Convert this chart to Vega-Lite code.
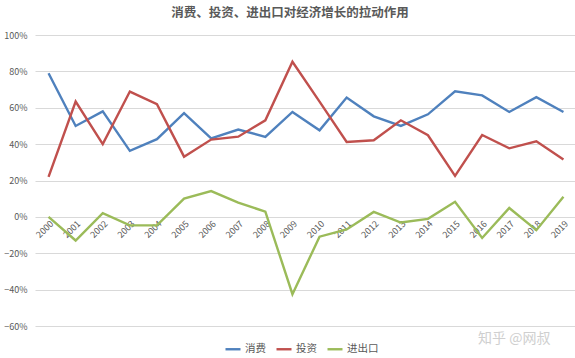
{
  "$schema": "https://vega.github.io/schema/vega-lite/v6.json",
  "autosize": {"type": "none"},
  "width": 542,
  "height": 291,
  "padding": {"left": 35, "top": 35, "right": 0, "bottom": 32},
  "background": "white",
  "title": {
    "text": "消费、投资、进出口对经济增长的拉动作用",
    "font": "Noto Sans CJK SC",
    "fontSize": 12.5,
    "fontWeight": "bold",
    "color": "#595959",
    "offset": 12,
    "dx": -16
  },
  "datasets": {
    "main": [
      {"year": "2000", "series": "消费", "value": 0.79},
      {"year": "2001", "series": "消费", "value": 0.50},
      {"year": "2002", "series": "消费", "value": 0.58},
      {"year": "2003", "series": "消费", "value": 0.363},
      {"year": "2004", "series": "消费", "value": 0.427},
      {"year": "2005", "series": "消费", "value": 0.57},
      {"year": "2006", "series": "消费", "value": 0.432},
      {"year": "2007", "series": "消费", "value": 0.48},
      {"year": "2008", "series": "消费", "value": 0.44},
      {"year": "2009", "series": "消费", "value": 0.577},
      {"year": "2010", "series": "消费", "value": 0.476},
      {"year": "2011", "series": "消费", "value": 0.656},
      {"year": "2012", "series": "消费", "value": 0.553},
      {"year": "2013", "series": "消费", "value": 0.50},
      {"year": "2014", "series": "消费", "value": 0.564},
      {"year": "2015", "series": "消费", "value": 0.69},
      {"year": "2016", "series": "消费", "value": 0.668},
      {"year": "2017", "series": "消费", "value": 0.577},
      {"year": "2018", "series": "消费", "value": 0.658},
      {"year": "2019", "series": "消费", "value": 0.577},
      {"year": "2000", "series": "投资", "value": 0.22},
      {"year": "2001", "series": "投资", "value": 0.634},
      {"year": "2002", "series": "投资", "value": 0.40},
      {"year": "2003", "series": "投资", "value": 0.689},
      {"year": "2004", "series": "投资", "value": 0.62},
      {"year": "2005", "series": "投资", "value": 0.331},
      {"year": "2006", "series": "投资", "value": 0.425},
      {"year": "2007", "series": "投资", "value": 0.441},
      {"year": "2008", "series": "投资", "value": 0.531},
      {"year": "2009", "series": "投资", "value": 0.853},
      {"year": "2010", "series": "投资", "value": 0.634},
      {"year": "2011", "series": "投资", "value": 0.412},
      {"year": "2012", "series": "投资", "value": 0.421},
      {"year": "2013", "series": "投资", "value": 0.531},
      {"year": "2014", "series": "投资", "value": 0.449},
      {"year": "2015", "series": "投资", "value": 0.225},
      {"year": "2016", "series": "投资", "value": 0.45},
      {"year": "2017", "series": "投资", "value": 0.377},
      {"year": "2018", "series": "投资", "value": 0.416},
      {"year": "2019", "series": "投资", "value": 0.315},
      {"year": "2000", "series": "进出口", "value": 0.0},
      {"year": "2001", "series": "进出口", "value": -0.13},
      {"year": "2002", "series": "进出口", "value": 0.02},
      {"year": "2003", "series": "进出口", "value": -0.047},
      {"year": "2004", "series": "进出口", "value": -0.047},
      {"year": "2005", "series": "进出口", "value": 0.10},
      {"year": "2006", "series": "进出口", "value": 0.142},
      {"year": "2007", "series": "进出口", "value": 0.078},
      {"year": "2008", "series": "进出口", "value": 0.029},
      {"year": "2009", "series": "进出口", "value": -0.425},
      {"year": "2010", "series": "进出口", "value": -0.109},
      {"year": "2011", "series": "进出口", "value": -0.069},
      {"year": "2012", "series": "进出口", "value": 0.027},
      {"year": "2013", "series": "进出口", "value": -0.031},
      {"year": "2014", "series": "进出口", "value": -0.011},
      {"year": "2015", "series": "进出口", "value": 0.083},
      {"year": "2016", "series": "进出口", "value": -0.116},
      {"year": "2017", "series": "进出口", "value": 0.049},
      {"year": "2018", "series": "进出口", "value": -0.073},
      {"year": "2019", "series": "进出口", "value": 0.111}
    ],
    "mark": [
      {"year": "2017", "value": -0.67, "label": "知乎 @网叔"}
    ]
  },
  "config": {
    "view": {"stroke": null},
    "font": "Noto Sans CJK SC"
  },
  "encoding": {
    "x": {
      "field": "year",
      "type": "ordinal",
      "scale": {"type": "point", "padding": 0.5},
      "axis": {
        "title": null,
        "domain": false,
        "ticks": false,
        "grid": false,
        "labelAngle": -45,
        "labelFontSize": 9,
        "labelColor": "#595959",
        "labelPadding": 3,
        "labelDx": -6,
        "labelOverlap": false,
        "offset": -110
      }
    },
    "y": {
      "field": "value",
      "type": "quantitative",
      "scale": {"domain": [-0.6, 1.0], "nice": false},
      "axis": {
        "title": null,
        "format": ".0%",
        "values": [-0.6, -0.4, -0.2, 0, 0.2, 0.4, 0.6, 0.8, 1.0],
        "domain": false,
        "ticks": false,
        "gridColor": "#D9D9D9",
        "gridWidth": 1,
        "labelFontSize": 9,
        "labelColor": "#595959",
        "labelPadding": 8,
        "labelOverlap": false
      }
    }
  },
  "layer": [
    {
      "data": {"name": "main"},
      "mark": {"type": "line", "strokeWidth": 2.4, "clip": false},
      "encoding": {
        "color": {
          "field": "series",
          "type": "nominal",
          "scale": {"domain": ["消费", "投资", "进出口"], "range": ["#4F81BD", "#C0504D", "#9BBB59"]},
          "legend": {
            "title": null,
            "orient": "none",
            "legendX": 189,
            "legendY": 305,
            "direction": "horizontal",
            "symbolType": "stroke",
            "symbolStrokeWidth": 2.4,
            "symbolSize": 225,
            "labelFontSize": 10.5,
            "labelColor": "#595959",
            "labelOffset": 3,
            "columnPadding": 5
          }
        }
      }
    },
    {
      "data": {"name": "mark"},
      "mark": {"type": "text", "fontSize": 14, "color": "#CFCFCF", "clip": false, "dx": 5},
      "encoding": {
        "text": {"field": "label"}
      }
    }
  ]
}
